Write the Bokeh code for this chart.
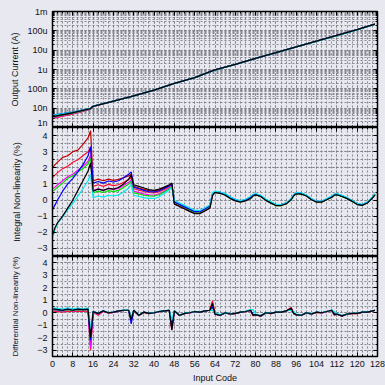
from bokeh.plotting import figure
from bokeh.layouts import column
from bokeh.models import (Range1d, FixedTicker, CustomJSTickFormatter, Grid,
                          LinearAxis, LogAxis)
from bokeh.embed import file_html
from bokeh.resources import INLINE

# ---------------- data ----------------
SERIES = ["darkred", "red", "magenta", "green", "blue", "cyan", "black"]
COLORS = {"darkred": "#C00000", "red": "#FF1030", "magenta": "#FF00FF",
          "green": "#00E000", "blue": "#0000FF", "cyan": "#00E8F0", "black": "#000000"}

X_TICKS = [0, 8, 16, 24, 32, 40, 48, 56, 64, 72, 80, 88, 96, 104, 112, 120, 128]

CUR_TICKS = [1e-9, 1e-8, 1e-7, 1e-6, 1e-5, 1e-4, 1e-3]
CUR_LABELS = ["1n", "10n", "100n", "1u", "10u", "100u", "1m"]
PCT_TICKS = [-3, -2, -1, 0, 1, 2, 3, 4]

# Output current
X_CUR = [0, 8, 15, 16, 24, 32, 40, 48, 56, 64, 72, 80, 88, 96, 104, 112, 120, 127]
CUR = {
    "darkred": [3.1e-9, 5.1e-9, 9.3e-9, 1.25e-8, 2.3e-8, 4.3e-8, 8.6e-8, 1.9e-7, 3.8e-7, 9.5e-7, 1.85e-6, 3.8e-6, 7.5e-6, 1.5e-5, 2.9e-5, 5.8e-5, 1.15e-4, 2.2e-4],
    "red":     [3.0e-9, 5.0e-9, 9.2e-9, 1.25e-8, 2.3e-8, 4.3e-8, 8.6e-8, 1.9e-7, 3.8e-7, 9.5e-7, 1.85e-6, 3.8e-6, 7.5e-6, 1.5e-5, 2.9e-5, 5.8e-5, 1.15e-4, 2.2e-4],
    "magenta": [3.2e-9, 5.2e-9, 9.3e-9, 1.25e-8, 2.3e-8, 4.3e-8, 8.6e-8, 1.9e-7, 3.8e-7, 9.5e-7, 1.85e-6, 3.8e-6, 7.5e-6, 1.5e-5, 2.9e-5, 5.8e-5, 1.15e-4, 2.2e-4],
    "green":   [3.5e-9, 5.5e-9, 9.4e-9, 1.25e-8, 2.3e-8, 4.3e-8, 8.6e-8, 1.9e-7, 3.8e-7, 9.5e-7, 1.85e-6, 3.8e-6, 7.5e-6, 1.5e-5, 2.9e-5, 5.8e-5, 1.15e-4, 2.2e-4],
    "blue":    [4.4e-9, 6.3e-9, 9.6e-9, 1.26e-8, 2.3e-8, 4.3e-8, 8.6e-8, 1.9e-7, 3.8e-7, 9.5e-7, 1.85e-6, 3.8e-6, 7.5e-6, 1.5e-5, 2.9e-5, 5.8e-5, 1.15e-4, 2.2e-4],
    "cyan":    [4.2e-9, 6.2e-9, 9.6e-9, 1.26e-8, 2.3e-8, 4.3e-8, 8.6e-8, 1.9e-7, 3.8e-7, 9.4e-7, 1.84e-6, 3.75e-6, 7.4e-6, 1.48e-5, 2.85e-5, 5.7e-5, 1.13e-4, 2.15e-4],
    "black":   [3.7e-9, 5.8e-9, 9.5e-9, 1.25e-8, 2.3e-8, 4.3e-8, 8.6e-8, 1.9e-7, 3.8e-7, 9.5e-7, 1.85e-6, 3.8e-6, 7.5e-6, 1.5e-5, 2.9e-5, 5.8e-5, 1.15e-4, 2.2e-4],
}

# Codes at which INL / DNL were read
CODES = [0, 1, 2, 4, 6, 8, 10, 12, 14, 15,
         16, 18, 20, 22, 24, 26, 28, 30, 31,
         32, 34, 36, 38, 40, 42, 44, 46, 47,
         48, 50, 52, 54, 56, 58, 60, 62, 63,
         64, 66, 68, 70, 72, 74, 76, 78, 79,
         80, 82, 84, 86, 88, 90, 92, 94, 95,
         96, 98, 100, 102, 104, 106, 108, 110, 111,
         112, 114, 116, 118, 120, 122, 124, 126, 127]

INL = {
    "darkred": [2.0, 2.2, 2.35, 2.65, 2.75, 3.0, 3.1, 3.45, 3.85, 4.3,
                1.2, 1.3, 1.2, 1.3, 1.22, 1.28, 1.38, 1.5, 1.6,
                0.85, 0.75, 0.66, 0.58, 0.55, 0.62, 0.75, 0.9, 1.0,
                -0.22, -0.37, -0.52, -0.67, -0.82, -0.82, -0.65, -0.47, 0.3,
                0.48, 0.43, 0.33, 0.13, -0.02, -0.1, -0.02, 0.13, 0.28,
                0.33, 0.23, 0.0, -0.17, -0.32, -0.32, -0.22, 0.03, 0.28,
                0.41, 0.39, 0.27, 0.04, -0.11, -0.11, 0.04, 0.19, 0.32,
                0.35, 0.24, 0.11, -0.06, -0.26, -0.31, -0.16, 0.14, 0.34],
    "red": [1.4, 1.55, 1.7, 1.95, 2.1, 2.35, 2.5, 2.75, 3.0, 3.3,
            0.85, 0.95, 0.85, 0.97, 0.9, 0.95, 1.1, 1.28, 1.4,
            0.7, 0.62, 0.53, 0.47, 0.45, 0.52, 0.66, 0.82, 0.95,
            -0.19, -0.34, -0.49, -0.64, -0.79, -0.79, -0.62, -0.44, 0.32,
            0.5, 0.45, 0.35, 0.15, 0.0, -0.08, 0.0, 0.15, 0.3,
            0.35, 0.25, 0.02, -0.15, -0.3, -0.3, -0.2, 0.05, 0.3,
            0.42, 0.4, 0.28, 0.05, -0.1, -0.1, 0.05, 0.2, 0.33,
            0.36, 0.25, 0.12, -0.05, -0.25, -0.3, -0.15, 0.15, 0.35],
    "magenta": [0.7, 0.8, 0.95, 1.2, 1.45, 1.6, 1.85, 2.1, 2.4, 2.8,
                0.6, 0.7, 0.6, 0.72, 0.66, 0.72, 0.9, 1.1, 1.25,
                0.55, 0.47, 0.38, 0.32, 0.3, 0.38, 0.55, 0.75, 0.9,
                -0.09, -0.24, -0.39, -0.54, -0.69, -0.7, -0.53, -0.35, 0.4,
                0.53, 0.48, 0.38, 0.18, 0.03, -0.05, 0.03, 0.18, 0.33,
                0.37, 0.27, 0.04, -0.13, -0.28, -0.29, -0.18, 0.07, 0.32,
                0.44, 0.42, 0.3, 0.07, -0.08, -0.08, 0.07, 0.22, 0.35,
                0.38, 0.27, 0.14, -0.03, -0.23, -0.28, -0.13, 0.17, 0.37],
    "green": [0.55, 0.65, 0.8, 1.05, 1.35, 1.5, 1.75, 1.95, 2.25, 2.6,
              0.45, 0.55, 0.47, 0.58, 0.52, 0.6, 0.78, 1.0, 1.15,
              0.45, 0.38, 0.3, 0.26, 0.25, 0.33, 0.5, 0.7, 0.85,
              -0.15, -0.3, -0.45, -0.6, -0.75, -0.75, -0.58, -0.4, 0.35,
              0.48, 0.43, 0.33, 0.13, -0.02, -0.12, -0.04, 0.1, 0.26,
              0.33, 0.23, 0.0, -0.18, -0.34, -0.34, -0.23, 0.02, 0.27,
              0.4, 0.38, 0.26, 0.03, -0.12, -0.12, 0.03, 0.18, 0.31,
              0.34, 0.23, 0.1, -0.07, -0.27, -0.32, -0.17, 0.13, 0.33],
    "blue": [-0.6, -0.3, 0.0, 0.55, 1.0, 1.35, 1.75, 2.2, 2.75, 3.3,
             1.05, 1.15, 1.05, 1.18, 1.12, 1.2, 1.38, 1.6, 1.75,
             0.8, 0.7, 0.6, 0.52, 0.5, 0.58, 0.72, 0.88, 1.0,
             -0.12, -0.27, -0.42, -0.57, -0.72, -0.72, -0.55, -0.37, 0.38,
             0.52, 0.47, 0.37, 0.17, 0.02, -0.06, 0.02, 0.17, 0.32,
             0.36, 0.26, 0.03, -0.14, -0.29, -0.3, -0.19, 0.06, 0.31,
             0.43, 0.41, 0.29, 0.06, -0.09, -0.09, 0.06, 0.21, 0.34,
             0.37, 0.26, 0.13, -0.04, -0.24, -0.29, -0.14, 0.16, 0.36],
    "cyan": [-2.4, -1.8, -1.45, -1.05, -0.6, -0.2, 0.25, 0.7, 1.2, 1.6,
             0.15, 0.25, 0.18, 0.3, 0.25, 0.32, 0.5, 0.75, 0.95,
             0.3, 0.22, 0.15, 0.11, 0.1, 0.2, 0.4, 0.62, 0.8,
             -0.03, -0.18, -0.33, -0.48, -0.63, -0.65, -0.48, -0.3, 0.45,
             0.55, 0.5, 0.4, 0.2, 0.05, -0.03, 0.05, 0.22, 0.36,
             0.4, 0.3, 0.06, -0.11, -0.27, -0.28, -0.17, 0.1, 0.35,
             0.46, 0.44, 0.32, 0.09, -0.07, -0.07, 0.09, 0.25, 0.37,
             0.4, 0.29, 0.16, -0.01, -0.21, -0.26, -0.11, 0.2, 0.4],
    "black": [-2.2, -1.7, -1.4, -1.0, -0.5, 0.0, 0.6, 1.2, 1.8, 2.3,
              0.55, 0.68, 0.6, 0.72, 0.68, 0.78, 1.0, 1.3, 1.55,
              0.95, 0.85, 0.75, 0.65, 0.6, 0.68, 0.8, 0.95, 1.05,
              -0.25, -0.4, -0.55, -0.7, -0.85, -0.85, -0.68, -0.5, 0.28,
              0.47, 0.42, 0.3, 0.1, -0.05, -0.13, -0.05, 0.1, 0.25,
              0.32, 0.22, -0.02, -0.19, -0.34, -0.34, -0.24, 0.02, 0.27,
              0.39, 0.37, 0.25, 0.02, -0.13, -0.13, 0.02, 0.17, 0.3,
              0.33, 0.22, 0.09, -0.08, -0.28, -0.33, -0.18, 0.12, 0.32],
}

DNL = {
    "darkred": [0.15, 0.15, 0.1, 0.08, 0.15, 0.1, 0.15, 0.12, 0.18, -2.6,
                0.05, -0.15, 0.12, -0.02, 0.02, 0.12, 0.18, 0.18, -0.5,
                0.18, -0.22, 0.03, -0.07, -0.02, 0.08, 0.13, 0.18, -1.35,
                0.13, -0.22, -0.07, -0.02, 0.08, 0.03, 0.13, 0.2, 0.85,
                -0.12, -0.22, -0.02, -0.12, -0.07, 0.03, 0.08, 0.18, -0.22,
                -0.17, -0.27, -0.02, -0.07, 0.03, 0.03, 0.13, 0.42, -0.07,
                -0.17, -0.22, -0.02, -0.12, 0.03, -0.02, 0.08, 0.18, -0.18,
                -0.12, -0.27, -0.12, -0.07, -0.07, 0.03, 0.03, 0.13, 0.18],
    "red": [0.15, 0.12, 0.1, 0.05, 0.15, 0.08, 0.15, 0.1, 0.15, -3.0,
            0.05, -0.2, 0.12, -0.03, 0.02, 0.12, 0.18, 0.18, -0.5,
            0.18, -0.22, 0.03, -0.07, -0.02, 0.08, 0.13, 0.18, -1.3,
            0.13, -0.22, -0.07, -0.02, 0.08, 0.03, 0.13, 0.2, 0.95,
            -0.12, -0.22, -0.02, -0.12, -0.07, 0.03, 0.08, 0.15, -0.25,
            -0.17, -0.27, -0.02, -0.07, 0.03, 0.03, 0.13, 0.4, -0.07,
            -0.17, -0.22, -0.02, -0.12, 0.03, -0.02, 0.08, 0.18, -0.2,
            -0.12, -0.27, -0.12, -0.07, -0.07, 0.03, 0.03, 0.13, 0.18],
    "magenta": [0.2, 0.18, 0.15, 0.1, 0.2, 0.12, 0.2, 0.15, 0.2, -2.8,
                0.07, -0.12, 0.13, -0.02, 0.03, 0.13, 0.18, 0.18, -0.6,
                0.18, -0.2, 0.04, -0.06, -0.01, 0.09, 0.14, 0.19, -1.2,
                0.14, -0.2, -0.06, -0.01, 0.09, 0.04, 0.14, 0.2, 0.6,
                -0.1, -0.2, -0.01, -0.1, -0.06, 0.04, 0.09, 0.18, -0.18,
                -0.15, -0.25, -0.01, -0.06, 0.04, 0.04, 0.14, 0.3, -0.05,
                -0.15, -0.2, -0.01, -0.1, 0.04, -0.01, 0.09, 0.2, -0.15,
                -0.1, -0.25, -0.1, -0.06, -0.06, 0.04, 0.04, 0.14, 0.2],
    "green": [0.25, 0.25, 0.2, 0.15, 0.25, 0.17, 0.25, 0.2, 0.25, -1.8,
              0.08, -0.08, 0.14, -0.01, 0.04, 0.14, 0.19, 0.19, -0.45,
              0.19, -0.2, 0.04, -0.05, 0.0, 0.1, 0.14, 0.19, -0.9,
              0.14, -0.2, -0.05, 0.0, 0.1, 0.05, 0.14, 0.2, 0.45,
              -0.1, -0.2, 0.0, -0.1, -0.05, 0.05, 0.1, 0.2, -0.2,
              -0.15, -0.25, 0.0, -0.05, 0.05, 0.05, 0.14, 0.25, -0.05,
              -0.15, -0.2, 0.0, -0.1, 0.05, 0.0, 0.1, 0.2, -0.15,
              -0.1, -0.25, -0.1, -0.05, -0.05, 0.05, 0.05, 0.15, 0.2],
    "blue": [0.3, 0.28, 0.25, 0.2, 0.3, 0.22, 0.3, 0.25, 0.3, -2.2,
             0.1, -0.05, 0.15, 0.0, 0.05, 0.15, 0.2, 0.2, -0.9,
             0.2, -0.2, 0.05, -0.05, 0.0, 0.1, 0.15, 0.2, -1.0,
             0.15, -0.2, -0.05, 0.0, 0.1, 0.05, 0.15, 0.2, 0.5,
             -0.1, -0.2, 0.0, -0.1, -0.05, 0.05, 0.1, 0.22, -0.15,
             -0.15, -0.25, 0.0, -0.05, 0.05, 0.05, 0.15, 0.25, 0.0,
             -0.15, -0.2, 0.0, -0.1, 0.05, 0.0, 0.1, 0.22, -0.1,
             -0.1, -0.25, -0.1, -0.05, -0.05, 0.05, 0.05, 0.15, 0.2],
    "cyan": [0.4, 0.38, 0.35, 0.3, 0.4, 0.3, 0.38, 0.32, 0.38, -1.3,
             0.12, -0.02, 0.16, 0.02, 0.06, 0.16, 0.21, 0.22, -0.4,
             0.21, -0.18, 0.06, -0.04, 0.01, 0.11, 0.16, 0.22, -0.6,
             0.16, -0.18, -0.04, 0.01, 0.11, 0.06, 0.16, 0.18, 0.2,
             0.0, -0.15, 0.01, -0.09, -0.04, 0.06, 0.11, 0.25, 0.25,
             -0.1, -0.22, 0.01, -0.04, 0.06, 0.06, 0.16, 0.2, 0.1,
             -0.12, -0.18, 0.01, -0.09, 0.06, 0.01, 0.11, 0.22, 0.1,
             -0.05, -0.22, -0.09, -0.04, -0.04, 0.06, 0.06, 0.16, 0.22],
    "black": [0.3, 0.3, 0.25, 0.2, 0.3, 0.2, 0.3, 0.25, 0.3, -2.0,
              0.1, -0.05, 0.15, 0.0, 0.05, 0.15, 0.2, 0.2, -0.55,
              0.2, -0.2, 0.05, -0.05, 0.0, 0.1, 0.15, 0.2, -1.4,
              0.15, -0.2, -0.05, 0.0, 0.1, 0.05, 0.15, 0.2, 0.75,
              -0.1, -0.2, 0.0, -0.1, -0.05, 0.05, 0.1, 0.2, -0.2,
              -0.15, -0.25, 0.0, -0.05, 0.05, 0.05, 0.15, 0.35, -0.05,
              -0.15, -0.2, 0.0, -0.1, 0.05, 0.0, 0.1, 0.2, -0.15,
              -0.1, -0.25, -0.1, -0.05, -0.05, 0.05, 0.05, 0.15, 0.2],
}

# ---------------- styling ----------------
BG = "#E8E8F1"
GRID = "#7E7E86"
FONT = "Liberation Sans"
FS = "9px"
W = 385

x_range = Range1d(0, 128)
x_minor = list(range(0, 129, 2))
pct_minor = [v / 2 for v in range(-7, 10)]
cur_minor = [m * t for t in CUR_TICKS[:-1] for m in range(1, 10)]


def tick_style(ax):
    ax.major_tick_in = 4
    ax.major_tick_out = 0
    ax.minor_tick_in = 2
    ax.minor_tick_out = 0
    ax.axis_line_color = "black"


def bare_axis(cls, ticks, minor):
    ax = cls(ticker=FixedTicker(ticks=ticks, minor_ticks=minor),
             formatter=CustomJSTickFormatter(code="return '';"),
             major_label_text_font_size="1px", major_label_standoff=0)
    tick_style(ax)
    return ax


def make(height, y_range, y_type, label, ticks, minor, top, xaxis, ax_standoff,
         label_fs=FS):
    p = figure(width=W, height=height, x_range=x_range, y_range=y_range,
               y_axis_type=y_type, x_axis_location=("below" if xaxis else None),
               output_backend="svg", toolbar_location=None,
               min_border_left=52, min_border_right=8, min_border_top=top,
               min_border_bottom=0, background_fill_color=BG, border_fill_color=BG,
               outline_line_color="black", outline_line_width=1.5)
    p.center = [r for r in p.center if not isinstance(r, Grid)]
    for dim, tk, mn in ((0, X_TICKS, x_minor), (1, ticks, minor)):
        g = Grid(dimension=dim, ticker=FixedTicker(ticks=tk, minor_ticks=mn),
                 grid_line_color=GRID, grid_line_dash="2 2", grid_line_alpha=1.0,
                 minor_grid_line_color=GRID, minor_grid_line_dash="2 2",
                 minor_grid_line_alpha=0.9)
        p.add_layout(g, "center")
    axes = list(p.yaxis) + (list(p.xaxis) if xaxis else [])
    for ax in axes:
        tick_style(ax)
        ax.major_label_text_font = FONT
        ax.major_label_text_font_size = FS
        ax.major_label_text_color = "#111111"
        ax.axis_label_text_font = FONT
        ax.axis_label_text_font_size = FS
        ax.axis_label_text_font_style = "normal"
        ax.axis_label_text_color = "#111111"
    yax = p.yaxis[0]
    yax.ticker = FixedTicker(ticks=ticks, minor_ticks=minor)
    yax.axis_label = label
    yax.axis_label_text_font_size = label_fs
    yax.major_label_standoff = 5
    yax.axis_label_standoff = ax_standoff
    if xaxis:
        xax = p.xaxis[0]
        xax.ticker = FixedTicker(ticks=X_TICKS, minor_ticks=x_minor)
        xax.axis_label = "Input Code"
        xax.major_label_standoff = 4
        xax.axis_label_standoff = 3
    else:
        p.add_layout(bare_axis(LinearAxis, X_TICKS, x_minor), "below")
    p.add_layout(bare_axis(LinearAxis, X_TICKS, x_minor), "above")
    p.add_layout(bare_axis(LogAxis if y_type == "log" else LinearAxis, ticks, minor), "right")
    return p


p1 = make(127, Range1d(1e-9, 1e-3), "log", "Output Current (A)",
          CUR_TICKS, cur_minor, 11, False, 4)
p1.yaxis[0].formatter = CustomJSTickFormatter(
    args=dict(decades=CUR_TICKS, names=CUR_LABELS),
    code="""
    for (let i = 0; i < decades.length; i++) {
        if (Math.abs(Math.log10(decades[i]) - Math.log10(tick)) < 0.01) return names[i];
    }
    return "";
    """)
p2 = make(129, Range1d(-3.5, 4.5), "linear", "Integral Non-linearity (%)",
          PCT_TICKS, pct_minor, 0, False, 12)
p3 = make(129, Range1d(-3.5, 4.5), "linear", "Differential Non-linearity (%)",
          PCT_TICKS, pct_minor, 0, True, 14, label_fs="8px")

for s in SERIES:
    c = COLORS[s]
    p1.line(X_CUR, CUR[s], line_color=c, line_width=1.3)
    p2.line(CODES, INL[s], line_color=c, line_width=1.2)
    p3.line(CODES, DNL[s], line_color=c, line_width=1.2)

layout = column(p1, p2, p3, spacing=0)
layout.styles = {"background-color": BG}

open("out.html", "w").write(file_html(layout, INLINE))
